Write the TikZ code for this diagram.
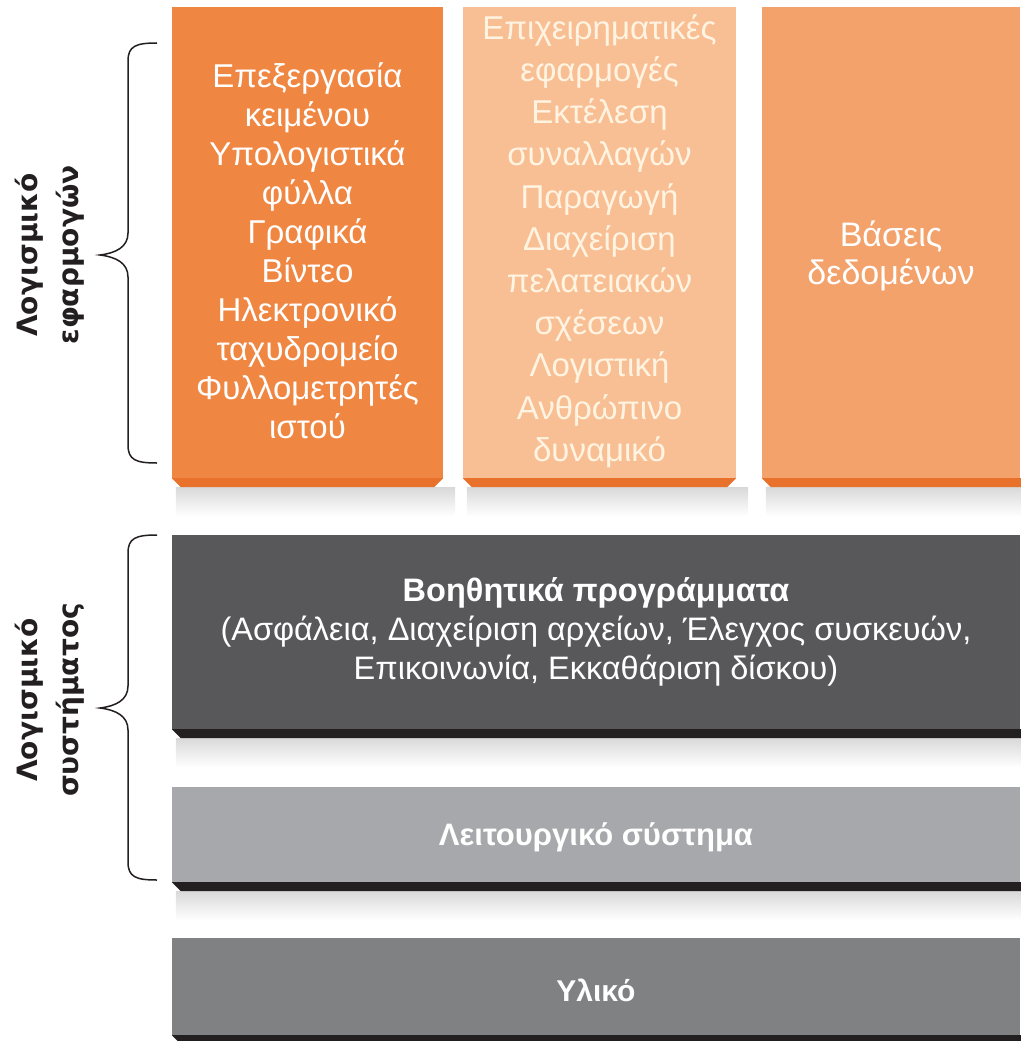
\documentclass[tikz,border=0pt]{standalone}
\usepackage{fontspec}
\setmainfont{Liberation Sans}
\newfontfamily\sidefont{DejaVu Sans}
\definecolor{apporange}{HTML}{EF8743}
\definecolor{applight}{HTML}{F9BF94}
\definecolor{appmid}{HTML}{F3A26B}
\definecolor{appedge}{HTML}{E8722B}
\definecolor{utilgray}{HTML}{58585A}
\definecolor{osgray}{HTML}{A7A8AB}
\definecolor{hwgray}{HTML}{808183}
\definecolor{edgeblack}{HTML}{231F20}
\definecolor{cream}{HTML}{FFF4E2}
% strip under a box, both corners cut
\newcommand{\ledge}[2]{\fill[#2] (#1.south west) -- (#1.south east) -- ++(-9,9) -- ([xshift=9pt,yshift=-9pt]#1.south west) -- cycle;}
% strip under a box that runs off the right edge
\newcommand{\ledgeopen}[2]{\fill[#2] (#1.south west) -- ([xshift=20pt]#1.south east) -- ++(0,9) -- ([xshift=9pt,yshift=-9pt]#1.south west) -- cycle;}
\newcommand{\softshadow}[1]{\shade[top color=black!15,bottom color=white] ([xshift=4pt,yshift=-9pt]#1.south west) rectangle ([xshift=12pt,yshift=-38pt]#1.south east);}
% brace on the left: top, tip, bottom
\newcommand{\sidebrace}[3]{\draw[edgeblack,line width=1.5pt] (157,#1) .. controls (136,#1) and (128,#1+3) .. (128,#1+18) -- (128,#2-22) .. controls (128,#2-8) and (116,#2-2) .. (100,#2) .. controls (116,#2+2) and (128,#2+8) .. (128,#2+22) -- (128,#3-18) .. controls (128,#3-3) and (136,#3) .. (157,#3);}

\begin{document}
\begin{tikzpicture}[x=1pt,y=-1pt,
  appbox/.style={inner sep=0pt,minimum height=471pt},
  sysbox/.style={inner sep=0pt,minimum width=848pt},
  apptext/.style={align=center,inner sep=0pt,font=\fontsize{33}{39}\selectfont},
  systext/.style={align=center,inner sep=0pt,text=white,font=\fontsize{32.5}{39}\selectfont},
  sidelabel/.style={rotate=90,align=center,text=edgeblack,font=\sidefont\bfseries\fontsize{28}{41}\selectfont}]
\useasboundingbox (0,0) rectangle (1020,1041);

% application software
\node[appbox,fill=apporange,minimum width=271pt] (wordproc) at (307.5,242.5) {};
\node[appbox,fill=applight,minimum width=273pt] (business) at (599.5,242.5) {};
\node[appbox,fill=appmid,minimum width=258pt] (databases) at (891,242.5) {};
\softshadow{wordproc} \softshadow{business} \softshadow{databases}
\ledge{wordproc}{appedge} \ledge{business}{appedge} \ledgeopen{databases}{appedge}
\node[apptext,text=white] (wordproctext) at (307.5,251) {Επεξεργασία\\κειμένου\\Υπολογιστικά\\φύλλα\\Γραφικά\\Βίντεο\\Ηλεκτρονικό\\ταχυδρομείο\\Φυλλομετρητές\\ιστού};
\node[apptext,text=cream,font=\fontsize{33}{42.2}\selectfont] (businesstext) at (599.5,241) {Επιχειρηματικές\\εφαρμογές\\Εκτέλεση\\συναλλαγών\\Παραγωγή\\Διαχείριση\\πελατειακών\\σχέσεων\\Λογιστική\\Ανθρώπινο\\δυναμικό};
\node[apptext,text=white,font=\fontsize{34}{38.5}\selectfont] (databasestext) at (891,256) {Βάσεις\\δεδομένων};

% system software and hardware
\node[sysbox,fill=utilgray,minimum height=194pt] (utilities) at (596,632) {};
\node[sysbox,fill=osgray,minimum height=95pt] (opsys) at (596,834.5) {};
\node[sysbox,fill=hwgray,minimum height=97pt] (hardware) at (596,986.5) {};
\softshadow{utilities} \softshadow{opsys}
\ledgeopen{utilities}{edgeblack} \ledgeopen{opsys}{edgeblack} \ledgeopen{hardware}{edgeblack}
\node[systext] (utilitiestext) at (596,632) {\textbf{Βοηθητικά προγράμματα}\\(Ασφάλεια, Διαχείριση αρχείων, Έλεγχος συσκευών,\\Επικοινωνία, Εκκαθάριση δίσκου)};
\node[systext,font=\bfseries\fontsize{31}{39}\selectfont] (opsystext) at (596,837.5) {Λειτουργικό σύστημα};
\node[systext,font=\bfseries\fontsize{30}{39}\selectfont] (hardwaretext) at (596,990) {Υλικό};

% braces and their labels
\sidebrace{43}{255}{463}
\sidebrace{535}{708}{880}
\node[sidelabel] (applabel) at (50,255) {Λογισμικό\\εφαρμογών};
\node[sidelabel] (syslabel) at (50,700) {Λογισμικό\\συστήματος};
\end{tikzpicture}
\end{document}
